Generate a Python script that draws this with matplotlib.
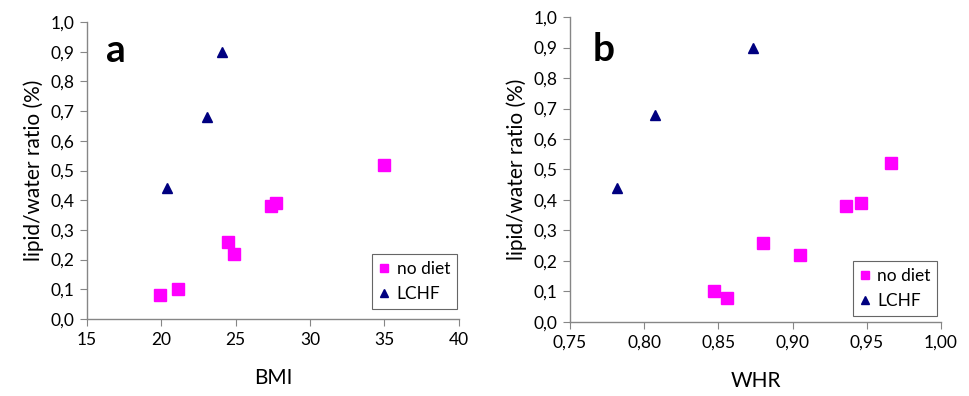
import matplotlib.pyplot as plt
from matplotlib.ticker import FuncFormatter

plt.rcParams['font.family'] = ['Lato', 'DejaVu Sans']

# panel a: BMI
bmi_nodiet = [19.9, 21.1, 24.5, 24.9, 27.4, 27.7, 35.0]
ratio_nodiet_a = [0.08, 0.10, 0.26, 0.22, 0.38, 0.39, 0.52]
bmi_lchf = [20.4, 23.1, 24.1]
ratio_lchf_a = [0.44, 0.68, 0.90]

# panel b: WHR
whr_nodiet = [0.847, 0.856, 0.880, 0.905, 0.936, 0.946, 0.966]
ratio_nodiet_b = [0.10, 0.08, 0.26, 0.22, 0.38, 0.39, 0.52]
whr_lchf = [0.782, 0.807, 0.873]
ratio_lchf_b = [0.44, 0.68, 0.90]

fig = plt.figure(figsize=(9.7, 3.96), dpi=100)
ax1 = fig.add_axes([0.0897, 0.1944, 0.3833, 0.750])
ax2 = fig.add_axes([0.5876, 0.187, 0.3825, 0.770])


def comma(fmt):
    return FuncFormatter(lambda v, p: (fmt % v).replace('.', ','))


def style(ax, xlim, xticks, xfmt, xlabel, letter, letter_pos, legend_bbox):
    ax.set_xlim(*xlim)
    ax.set_ylim(0, 1.0)
    ax.set_xticks(xticks)
    ax.set_yticks([i / 10 for i in range(11)])
    ax.xaxis.set_major_formatter(comma(xfmt))
    ax.yaxis.set_major_formatter(comma('%.1f'))
    for s in ['top', 'right']:
        ax.spines[s].set_visible(False)
    for s in ['left', 'bottom']:
        ax.spines[s].set_color('#868686')
        ax.spines[s].set_linewidth(1)
    ax.tick_params(direction='out', length=5, color='#868686', labelsize=12.5, pad=4)
    ax.set_xlabel(xlabel, fontsize=15, labelpad=15)
    ax.set_ylabel('lipid/water ratio (%)', fontsize=15, labelpad=5)
    ax.text(letter_pos[0], letter_pos[1], letter, transform=ax.transAxes, fontsize=28,
            fontweight='bold', ha='left', va='center')
    leg = ax.legend(loc='lower right', bbox_to_anchor=legend_bbox, fontsize=12.5,
                    frameon=True, fancybox=False, handlelength=0.6,
                    handletextpad=0.4, borderpad=0.4, labelspacing=0.5,
                    borderaxespad=0, markerscale=0.8)
    leg.get_frame().set_edgecolor('#404040')
    leg.get_frame().set_linewidth(0.8)


ax1.plot(bmi_nodiet, ratio_nodiet_a, 's', color='#FF00FF', markersize=8, label='no diet')
ax1.plot(bmi_lchf, ratio_lchf_a, '^', color='#000080', markersize=7, label='LCHF')
style(ax1, (15, 40), [15, 20, 25, 30, 35, 40], '%d', 'BMI', 'a', (0.05, 0.905),
      (0.995, 0.035))

ax2.plot(whr_nodiet, ratio_nodiet_b, 's', color='#FF00FF', markersize=8, label='no diet')
ax2.plot(whr_lchf, ratio_lchf_b, '^', color='#000080', markersize=7, label='LCHF')
style(ax2, (0.75, 1.0), [0.75, 0.80, 0.85, 0.90, 0.95, 1.00], '%.2f', 'WHR', 'b',
      (0.06, 0.895), (0.99, 0.02))

fig.savefig('out.png', dpi=100)
